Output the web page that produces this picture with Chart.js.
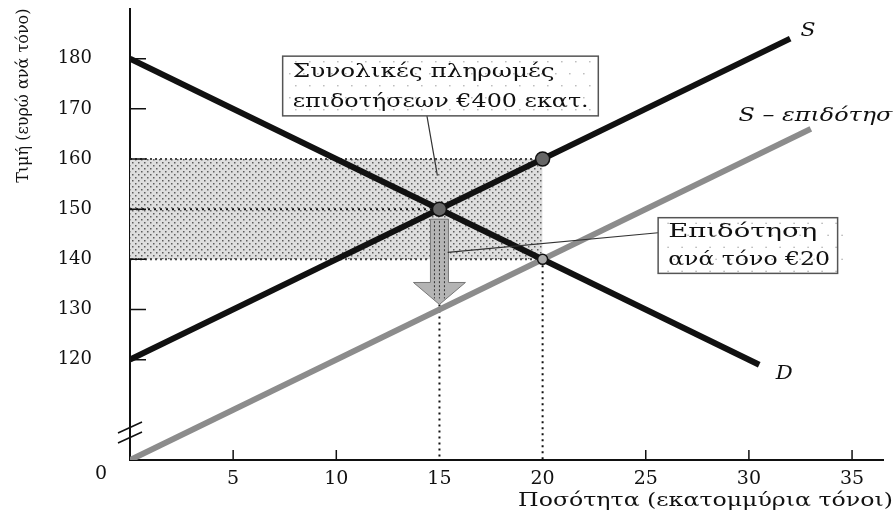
<!DOCTYPE html>
<html>
<head>
<meta charset="utf-8">
<script src="https://cdn.jsdelivr.net/npm/chart.js@4.4.0/dist/chart.umd.min.js"></script>
<style>
  html, body { margin: 0; padding: 0; background: #fff; }
  #wrap { width: 894px; height: 514px; position: relative; }
</style>
</head>
<body>
<div id="wrap"><canvas id="plot" width="894" height="514"></canvas></div>
<script>
// quantity in million tonnes, price in euro per tonne
const demandQ = [0, 30.5];
const demandP = [180, 119];
const supplyQ = [0, 32];
const supplyP = [120, 184];
const subsidyQ = [0, 33];
const subsidyP = [100, 166];

const eqQ = 15, eqP = 150;      // market without subsidy
const newQ = 20;                // market with subsidy
const buyerP = 140, sellerP = 160;
const arrowP = [148, 131];      // arrow from eq price down to S - subsidy

const xTicks = [0, 5, 10, 15, 20, 25, 30, 35];
const yTicks = [120, 130, 140, 150, 160, 170, 180];

const FONT = "'DejaVu Serif', 'Liberation Serif', serif";

function toXY(qs, ps) {
  return qs.map((q, i) => ({ x: q, y: ps[i] }));
}

function stipple() {
  const c = document.createElement('canvas');
  c.width = 6; c.height = 6;
  const g = c.getContext('2d');
  g.fillStyle = '#dedede';
  g.fillRect(0, 0, 6, 6);
  g.fillStyle = '#5c5c5c';
  g.fillRect(0, 0, 1.5, 1.5);
  g.fillRect(3, 3, 1.5, 1.5);
  return g.createPattern(c, 'repeat');
}

// the scanned original is wider than its fonts, so text gets stretched to width
function wideText(ctx, s, px, py, w) {
  const k = w / ctx.measureText(s).width;
  ctx.save();
  ctx.translate(px, py);
  ctx.scale(k, 1);
  ctx.fillText(s, 0, 0);
  ctx.restore();
}

// annotation boxes, in data units
const box1 = { x0: 7.4, x1: 22.7, top: 180.5, bot: 168.6, size: 18,
  lines: ['Συνολικές πληρωμές', 'επιδοτήσεων €400 εκατ.'], widths: [262, 296] };
const box2 = { x0: 25.6, x1: 34.3, top: 148.3, bot: 137.2, size: 18,
  lines: ['Επιδότηση', 'ανά τόνο €20'], widths: [149, 162] };

const decor = {
  id: 'decor',
  afterDatasetsDraw(chart) {
    const { ctx, scales: { x, y } } = chart;
    ctx.save();

    // subsidy arrow
    const ax = x.getPixelForValue(eqQ);
    const aTop = y.getPixelForValue(arrowP[0]);
    const aTip = y.getPixelForValue(arrowP[1]);
    const headTop = aTip - 22;
    ctx.beginPath();
    ctx.moveTo(ax - 9, aTop);
    ctx.lineTo(ax + 9, aTop);
    ctx.lineTo(ax + 9, headTop);
    ctx.lineTo(ax + 26, headTop);
    ctx.lineTo(ax, aTip);
    ctx.lineTo(ax - 26, headTop);
    ctx.lineTo(ax - 9, headTop);
    ctx.closePath();
    ctx.fillStyle = '#b4b4b4';
    ctx.fill();
    ctx.strokeStyle = '#777';
    ctx.lineWidth = 1;
    ctx.stroke();
    ctx.setLineDash([2, 2]);
    ctx.strokeStyle = '#333';
    for (let k = -5; k <= 5; k += 5) {
      ctx.beginPath();
      ctx.moveTo(ax + k, aTop + 2);
      ctx.lineTo(ax + k, aTip - 6);
      ctx.stroke();
    }
    ctx.setLineDash([]);

    // leader lines
    ctx.strokeStyle = '#333';
    ctx.lineWidth = 1.2;
    ctx.beginPath();
    ctx.moveTo(x.getPixelForValue(14.3), y.getPixelForValue(170.8));
    ctx.lineTo(x.getPixelForValue(14.9), y.getPixelForValue(156.7));
    ctx.moveTo(x.getPixelForValue(box2.x0), y.getPixelForValue(145.3));
    ctx.lineTo(x.getPixelForValue(15.4), y.getPixelForValue(141.4));
    ctx.stroke();

    // boxes
    [box1, box2].forEach(b => {
      const l = x.getPixelForValue(b.x0), r = x.getPixelForValue(b.x1);
      const t = y.getPixelForValue(b.top), bt = y.getPixelForValue(b.bot);
      ctx.fillStyle = '#fff';
      ctx.fillRect(l, t, r - l, bt - t);
      ctx.fillStyle = '#999';
      for (let px = l + 6; px < r - 2; px += 14) {
        for (let py = t + 5; py < bt - 2; py += 12) {
          ctx.fillRect(px + ((py / 12) % 2) * 6, py, 1.2, 1.2);
        }
      }
      ctx.strokeStyle = '#555';
      ctx.lineWidth = 1.5;
      ctx.strokeRect(l, t, r - l, bt - t);
      ctx.fillStyle = '#111';
      ctx.font = b.size + 'px ' + FONT;
      ctx.textAlign = 'left';
      ctx.textBaseline = 'middle';
      const h = (bt - t) / 2;
      b.lines.forEach((s, i) => wideText(ctx, s, l + 10, t + h * (i + 0.5) + 1, b.widths[i]));
    });

    // curve names
    ctx.font = 'italic 18px ' + FONT;
    ctx.fillStyle = '#111';
    ctx.textAlign = 'left';
    ctx.textBaseline = 'middle';
    wideText(ctx, 'S', x.getPixelForValue(32.5), y.getPixelForValue(185.5), 15);
    wideText(ctx, 'S – επιδότηση', x.getPixelForValue(29.5), y.getPixelForValue(168.5), 168);
    wideText(ctx, 'D', x.getPixelForValue(31.3), y.getPixelForValue(117), 17);
    ctx.restore();
  },
  afterDraw(chart) {
    const { ctx, scales: { x, y } } = chart;
    const x0 = x.getPixelForValue(0), y0 = y.getPixelForValue(100);
    ctx.save();
    ctx.strokeStyle = '#111';
    ctx.lineWidth = 1.5;
    ctx.beginPath();
    yTicks.forEach(v => {
      const py = y.getPixelForValue(v);
      ctx.moveTo(x0, py); ctx.lineTo(x0 + 16, py);
    });
    xTicks.slice(1).forEach(v => {
      if (v === eqQ || v === newQ) return;
      const px = x.getPixelForValue(v);
      ctx.moveTo(px, y0); ctx.lineTo(px, y0 - 10);
    });
    ctx.stroke();

    // axis break
    ctx.lineWidth = 1.6;
    ctx.beginPath();
    ctx.moveTo(x0 - 12, y0 - 27); ctx.lineTo(x0 + 12, y0 - 38);
    ctx.moveTo(x0 - 12, y0 - 17); ctx.lineTo(x0 + 12, y0 - 28);
    ctx.stroke();

    // origin label and quantity title
    ctx.fillStyle = '#111';
    ctx.font = '19px ' + FONT;
    ctx.textAlign = 'center';
    ctx.textBaseline = 'middle';
    ctx.fillText('0', x0 - 29, y0 + 14);
    ctx.textAlign = 'left';
    ctx.font = '19px ' + FONT;
    wideText(ctx, 'Ποσότητα (εκατομμύρια τόνοι)', 518, y0 + 41, 375);
    ctx.restore();
  }
};

const guide = { borderColor: '#111', borderWidth: 2, borderDash: [2, 4], pointRadius: 0, showLine: true, fill: false };

new Chart(document.getElementById('plot'), {
  type: 'scatter',
  data: {
    datasets: [
      { data: toXY([0, newQ], [sellerP, sellerP]), showLine: true, fill: '+1', backgroundColor: stipple(),
        borderColor: '#444', borderWidth: 2, borderDash: [2, 3], pointRadius: 0, order: 10 },
      { data: toXY([0, newQ], [buyerP, buyerP]), showLine: true, fill: false,
        borderColor: '#444', borderWidth: 2, borderDash: [2, 3], pointRadius: 0, order: 9 },
      { ...guide, data: toXY([0, eqQ], [eqP, eqP]), order: 8 },
      { ...guide, data: toXY([eqQ, eqQ], [arrowP[1], 100]), order: 8 },
      { ...guide, data: toXY([newQ, newQ], [buyerP, 100]), order: 8 },
      { data: toXY(subsidyQ, subsidyP), showLine: true, borderColor: '#8c8c8c', borderWidth: 6, pointRadius: 0, order: 5 },
      { data: toXY(demandQ, demandP), showLine: true, borderColor: '#111', borderWidth: 6, pointRadius: 0, order: 4 },
      { data: toXY(supplyQ, supplyP), showLine: true, borderColor: '#111', borderWidth: 6, pointRadius: 0, order: 3 },
      { data: toXY([eqQ, newQ, newQ], [eqP, sellerP, buyerP]), pointRadius: [7, 7, 5], pointBackgroundColor: ['#666', '#666', '#aaa'],
        pointBorderColor: '#111', pointBorderWidth: 1.5, order: 0 }
    ]
  },
  options: {
    responsive: false,
    animation: false,
    events: [],
    layout: { padding: { top: 7, right: 11, left: 0, bottom: 0 } },
    plugins: { legend: { display: false }, tooltip: { enabled: false } },
    scales: {
      x: {
        type: 'linear', min: 0, max: 36.5,
        afterBuildTicks: s => { s.ticks = xTicks.map(v => ({ value: v })); },
        afterFit: s => { s.height = 54; s.paddingLeft = 0; s.paddingRight = 0; },
        grid: { display: false },
        border: { display: true, color: '#111', width: 2 },
        ticks: { padding: 0, maxRotation: 0, autoSkip: false, color: '#111', font: { family: FONT, size: 19 },
          callback: v => v === 0 ? '' : v }
      },
      y: {
        type: 'linear', min: 100, max: 190,
        afterBuildTicks: s => { s.ticks = yTicks.map(v => ({ value: v })); },
        afterFit: s => { s.width = 130; s.paddingTop = 0; s.paddingBottom = 0; },
        grid: { display: false },
        border: { display: true, color: '#111', width: 2 },
        ticks: { padding: 30, autoSkip: false, color: '#111', font: { family: FONT, size: 18 } },
        title: { display: true, text: 'Τιμή (ευρώ ανά τόνο)', align: 'end', color: '#111',
          font: { family: FONT, size: 16 }, padding: { top: 14, bottom: 0 } }
      }
    }
  },
  plugins: [decor]
});
</script>
</body>
</html>
